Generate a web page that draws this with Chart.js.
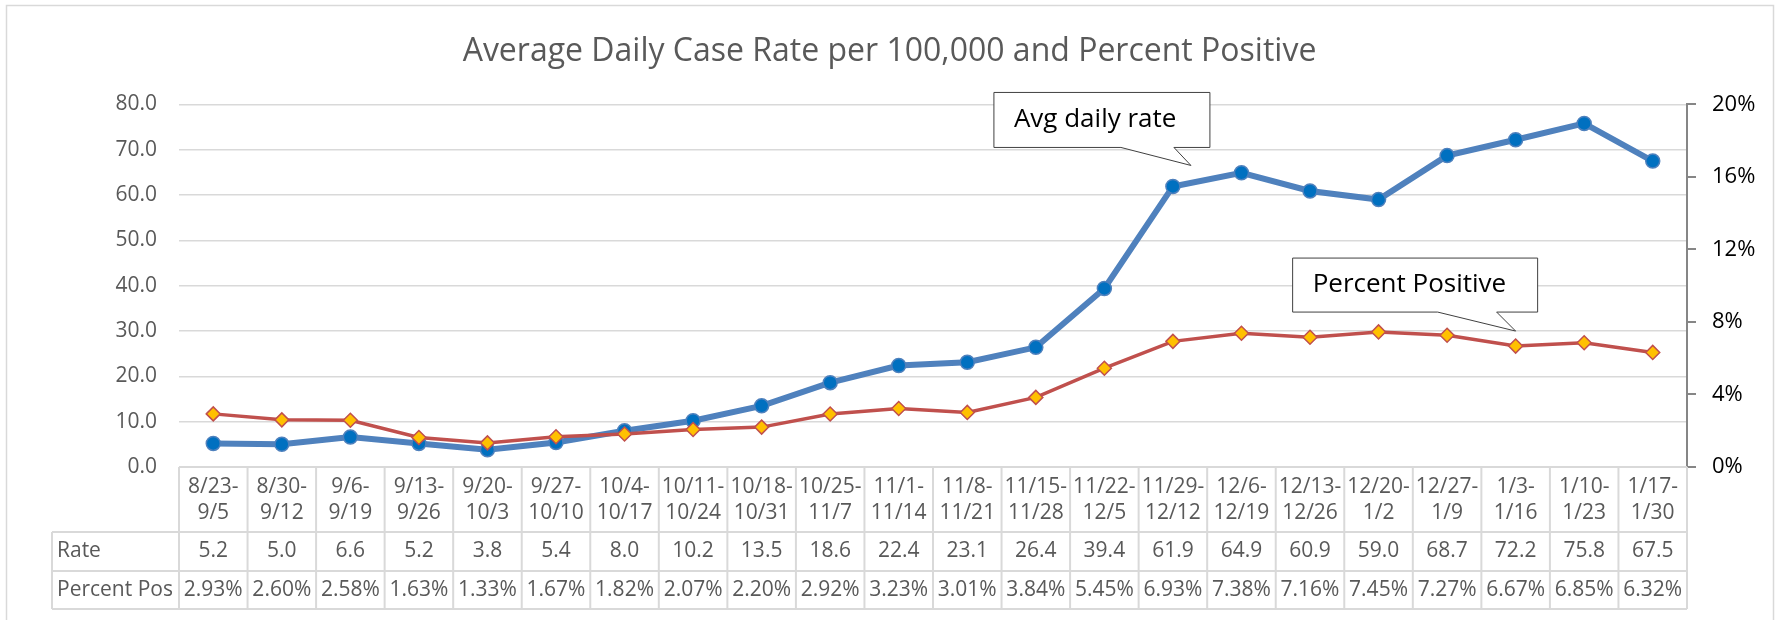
<!DOCTYPE html>
<html lang="en">
<head>
  <meta charset="UTF-8" />
  <title>Average Daily Case Rate per 100,000 and Percent Positive</title>
  <script src="https://cdn.jsdelivr.net/npm/chart.js"></script>
  <style>
    body { margin: 0; background: #fff; }
    canvas { display: block; }
  </style>
</head>
<body>
  <canvas id="caseChart" width="1779" height="620"></canvas>

  <script>
    // two-week periods, split in two lines like the table header
    const weekStart = ['8/23-', '8/30-', '9/6-', '9/13-', '9/20-', '9/27-', '10/4-', '10/11-', '10/18-', '10/25-', '11/1-',
                       '11/8-', '11/15-', '11/22-', '11/29-', '12/6-', '12/13-', '12/20-', '12/27-', '1/3-', '1/10-', '1/17-'];
    const weekEnd = ['9/5', '9/12', '9/19', '9/26', '10/3', '10/10', '10/17', '10/24', '10/31', '11/7', '11/14',
                     '11/21', '11/28', '12/5', '12/12', '12/19', '12/26', '1/2', '1/9', '1/16', '1/23', '1/30'];

    const rateValues = [5.2, 5.0, 6.6, 5.2, 3.8, 5.4, 8.0, 10.2, 13.5, 18.6, 22.4, 23.1, 26.4, 39.4, 61.9, 64.9, 60.9, 59.0, 68.7, 72.2, 75.8, 67.5];
    const pctValues = [2.93, 2.60, 2.58, 1.63, 1.33, 1.67, 1.82, 2.07, 2.20, 2.92, 3.23, 3.01, 3.84, 5.45, 6.93, 7.38, 7.16, 7.45, 7.27, 6.67, 6.85, 6.32];

    const rateAxis = { min: 0, max: 80, step: 10 };
    const pctAxis = { min: 0, max: 20, step: 4 };

    const rowLabels = ['Rate', 'Percent Pos'];

    const FONT = "'Open Sans', sans-serif";
    const GREY_TEXT = '#595959';
    const GRID = '#d9d9d9';

    Chart.defaults.font.family = FONT;

    // white page + thin outer frame (bottom edge runs off the picture)
    const frame = {
      id: 'frame',
      beforeDraw(chart) {
        const ctx = chart.ctx;
        ctx.save();
        ctx.fillStyle = '#fff';
        ctx.fillRect(0, 0, chart.width, chart.height);
        ctx.strokeStyle = GRID;
        ctx.lineWidth = 1.5;
        ctx.strokeRect(6.5, 5.5, chart.width - 12, chart.height + 50);
        ctx.restore();
      }
    };

    // Excel style data table under the plot
    const dataTable = {
      id: 'dataTable',
      afterDraw(chart) {
        const { ctx, chartArea: a, scales: { x } } = chart;
        const n = weekStart.length;
        const colW = (a.right - a.left) / n;
        const top = a.bottom;
        const r1 = top + 65, r2 = r1 + 39, r3 = r2 + 38;
        const labelLeft = 52;

        ctx.save();
        ctx.strokeStyle = GRID;
        ctx.lineWidth = 2;
        ctx.beginPath();
        ctx.moveTo(a.left, top); ctx.lineTo(a.right, top);
        [r1, r2, r3].forEach(y => { ctx.moveTo(labelLeft, y); ctx.lineTo(a.right, y); });
        for (let i = 0; i <= n; i++) {
          const xx = a.left + i * colW;
          ctx.moveTo(xx, top); ctx.lineTo(xx, r3);
        }
        ctx.moveTo(labelLeft, r1); ctx.lineTo(labelLeft, r3);
        ctx.stroke();

        ctx.fillStyle = GREY_TEXT;
        ctx.font = '21px ' + FONT;
        ctx.textAlign = 'center';
        ctx.textBaseline = 'middle';
        for (let i = 0; i < n; i++) {
          const cx = x.getPixelForValue(i);
          ctx.fillText(weekStart[i], cx, top + 20);
          ctx.fillText(weekEnd[i], cx, top + 46);
          ctx.fillText(rateValues[i].toFixed(1), cx, (r1 + r2) / 2);
          ctx.fillText(pctValues[i].toFixed(2) + '%', cx, (r2 + r3) / 2);
        }
        ctx.textAlign = 'left';
        ctx.fillText(rowLabels[0], labelLeft + 5, (r1 + r2) / 2);
        ctx.fillText(rowLabels[1], labelLeft + 5, (r2 + r3) / 2);
        ctx.restore();
      }
    };

    // speech-bubble labels pointing at a series
    const callouts = [
      { text: 'Avg daily rate', dataset: 1, index: 14, tip: [18, -21], box: [-197, -73, 216, 55], base: [-70, -17] },
      { text: 'Percent Positive', dataset: 0, index: 19, tip: [0, -15], box: [-223, -73, 245, 54], base: [-78, -19] }
    ];

    const calloutPlugin = {
      id: 'callouts',
      afterDatasetsDraw(chart) {
        const ctx = chart.ctx;
        ctx.save();
        callouts.forEach(c => {
          const pt = chart.getDatasetMeta(c.dataset).data[c.index];
          const tx = pt.x + c.tip[0], ty = pt.y + c.tip[1];
          const l = tx + c.box[0], t = ty + c.box[1], w = c.box[2], h = c.box[3];
          ctx.beginPath();
          ctx.moveTo(l, t);
          ctx.lineTo(l + w, t);
          ctx.lineTo(l + w, t + h);
          ctx.lineTo(tx + c.base[1], t + h);
          ctx.lineTo(tx, ty);
          ctx.lineTo(tx + c.base[0], t + h);
          ctx.lineTo(l, t + h);
          ctx.closePath();
          ctx.fillStyle = '#fff';
          ctx.fill();
          ctx.strokeStyle = '#404040';
          ctx.lineWidth = 1;
          ctx.stroke();
          ctx.fillStyle = '#000';
          ctx.font = '26px ' + FONT;
          ctx.textAlign = 'left';
          ctx.textBaseline = 'middle';
          ctx.fillText(c.text, l + 20, t + h / 2);
        });
        ctx.restore();
      }
    };

    const ctx = document.getElementById('caseChart').getContext('2d');

    new Chart(ctx, {
      type: 'line',
      data: {
        labels: weekStart.map((s, i) => s + weekEnd[i]),
        datasets: [
          {
            label: 'Percent Positive',
            data: pctValues,
            yAxisID: 'y1',
            order: 0,
            borderColor: '#c0504d',
            borderWidth: 3.5,
            pointStyle: 'rectRot',
            pointRadius: 7,
            pointBackgroundColor: '#ffc000',
            pointBorderColor: '#c0504d',
            pointBorderWidth: 1.5,
            tension: 0
          },
          {
            label: 'Avg daily rate',
            data: rateValues,
            yAxisID: 'y',
            order: 1,
            borderColor: '#4f81bd',
            borderWidth: 6,
            pointStyle: 'circle',
            pointRadius: 7,
            pointBackgroundColor: '#0070c0',
            pointBorderColor: '#4f81bd',
            pointBorderWidth: 1.5,
            tension: 0
          }
        ]
      },
      options: {
        responsive: false,
        animation: false,
        devicePixelRatio: 1,
        layout: { padding: { left: 0, right: 0, top: 0, bottom: 153 } },
        plugins: {
          legend: { display: false },
          tooltip: { enabled: false },
          title: {
            display: true,
            text: 'Average Daily Case Rate per 100,000 and Percent Positive',
            color: GREY_TEXT,
            font: { size: 32, weight: 'normal' },
            padding: { top: 33, bottom: 33 }
          }
        },
        scales: {
          x: {
            type: 'category',
            display: false,
            offset: true
          },
          y: {
            position: 'left',
            min: rateAxis.min,
            max: rateAxis.max,
            ticks: {
              stepSize: rateAxis.step,
              padding: 22,
              color: GREY_TEXT,
              font: { size: 21 },
              callback: v => v.toFixed(1)
            },
            grid: { color: GRID, lineWidth: 1.5, drawTicks: false },
            border: { display: false },
            afterFit: s => { s.width = 179; }
          },
          y1: {
            position: 'right',
            min: pctAxis.min,
            max: pctAxis.max,
            ticks: {
              stepSize: pctAxis.step,
              padding: 16,
              color: '#000',
              font: { size: 22 },
              callback: v => v + '%'
            },
            grid: { drawOnChartArea: false, color: '#868686', lineWidth: 2, tickLength: 9 },
            border: { display: true, color: '#868686', width: 2 },
            afterFit: s => { s.width = 92; }
          }
        }
      },
      plugins: [frame, dataTable, calloutPlugin]
    });
  </script>
</body>
</html>
